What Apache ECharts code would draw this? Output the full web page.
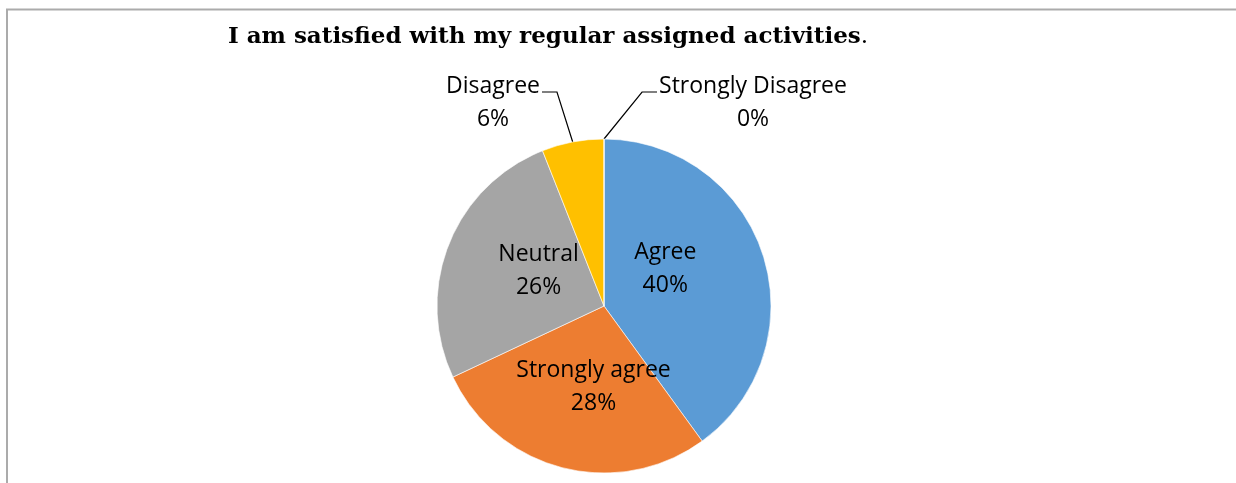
<!DOCTYPE html>
<html>
<head>
<meta charset="utf-8">
<title>I am satisfied with my regular assigned activities.</title>
<script src="https://cdn.jsdelivr.net/npm/echarts@6/dist/echarts.min.js"></script>
<style>
  html, body { margin: 0; padding: 0; background: #ffffff; }
  #chart { width: 1236px; height: 483px; }
</style>
</head>
<body>
<div id="chart"></div>
<script>
// Survey responses, clockwise from 12 o'clock
const categories = ['Agree', 'Strongly agree', 'Neutral', 'Disagree', 'Strongly Disagree'];
const percents = [40, 28, 26, 6, 0];
const colors = ['#5B9BD5', '#ED7D31', '#A5A5A5', '#FFC000', '#4472C4'];
const titleText = 'I am satisfied with my regular assigned activities';

const chart = echarts.init(document.getElementById('chart'), null, { renderer: 'canvas' });

const labelFont = '"Open Sans", "Noto Sans", sans-serif';

// Inside labels get small nudges; the two thin slices get callouts above the pie
const insideOffsets = { 0: [-21, -10], 1: [11, -3], 2: [15, -3] };

const seriesData = categories.map((name, i) => {
  const item = { name: name, value: percents[i], itemStyle: { color: colors[i] } };
  if (i < 3) {
    item.label = { position: 'inside', offset: insideOffsets[i] };
    item.labelLine = { show: false };
  } else {
    item.label = { position: 'outside' };
    item.labelLine = { show: true };
  }
  return item;
});

// Callout positions for the outside labels: label centre x, label top y, side
const callouts = {
  3: { x: 493, y: 70, side: 'left' },
  4: { x: 753, y: 70, side: 'right' }
};

chart.setOption({
  animation: false,
  backgroundColor: '#ffffff',
  title: {
    text: '{b|' + titleText + '}{n|.}',
    left: 543,
    textAlign: 'center',
    top: 21,
    textStyle: {
      rich: {
        b: { fontFamily: '"DejaVu Serif", serif', fontWeight: 'bold', fontSize: 23, color: '#000000' },
        n: { fontFamily: '"DejaVu Serif", serif', fontWeight: 'normal', fontSize: 23, color: '#000000' }
      }
    }
  },
  graphic: [
    {
      type: 'polyline',
      silent: true,
      shape: { points: [[7, 483], [7, 9.5], [1236, 9.5]] },
      style: { stroke: '#ababab', lineWidth: 2, fill: null }
    }
  ],
  series: [
    {
      type: 'pie',
      center: [604, 306],
      radius: [0, 167],
      startAngle: 90,
      clockwise: true,
      avoidLabelOverlap: false,
      minShowLabelAngle: 0,
      itemStyle: { borderColor: '#ffffff', borderWidth: 0.6 },
      label: {
        show: true,
        formatter: '{b}\n{d}%',
        fontFamily: labelFont,
        fontSize: 23,
        lineHeight: 33,
        color: '#000000',
        align: 'center'
      },
      labelLine: {
        show: true,
        length: 20,
        length2: 15,
        smooth: false,
        lineStyle: { color: '#000000', width: 1.2 }
      },
      labelLayout: function (params) {
        const c = callouts[params.dataIndex];
        if (!c) return {};
        const rect = params.labelRect;
        const pts = params.labelLinePoints;
        const top = c.y;
        const lineY = top + 22;
        const x = c.x;
        const res = { x: x, y: top, align: 'center', verticalAlign: 'top' };
        if (pts) {
          const start = pts[0];
          if (c.side === 'left') {
            const endX = x + rect.width / 2 + 2;
            res.labelLinePoints = [start, [endX + 15, lineY], [endX, lineY]];
          } else {
            const endX = x - rect.width / 2 - 2;
            res.labelLinePoints = [start, [endX - 15, lineY], [endX, lineY]];
          }
        }
        return res;
      },
      data: seriesData
    }
  ]
});
</script>
</body>
</html>
